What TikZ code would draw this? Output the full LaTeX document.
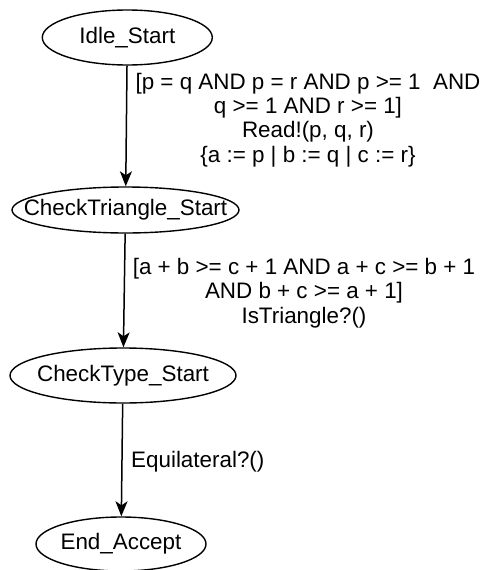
\documentclass[tikz,border=0pt]{standalone}
\usepackage{fontspec}
\setmainfont{Liberation Sans}
\usetikzlibrary{shapes.geometric,arrows.meta}

\tikzset{
  state/.style={draw, ellipse, line width=1.4pt, inner xsep=-60pt, inner ysep=-20pt,
    font=\fontsize{22.4}{24}\selectfont},
  trans/.style={draw, line width=1.5pt, -{Stealth[length=15pt,width=12pt,inset=4pt]}},
  guard/.style={align=center, inner sep=0pt, font=\fontsize{22.4}{24.4}\selectfont}
}

\begin{document}
\begin{tikzpicture}[x=1pt,y=-1pt]
  \useasboundingbox (0,0) rectangle (482,570);

  % states
  \node[state, minimum width=170pt, minimum height=55pt] (idle) at (127.3,37.5) {Idle\_Start};
  \node[state, minimum width=227pt, minimum height=46pt] (tri) at (125.5,210) {CheckTriangle\_Start};
  \node[state, minimum width=226pt, minimum height=55pt] (type) at (123,375.5) {CheckType\_Start};
  \node[state, minimum width=170pt, minimum height=54pt] (acc) at (121,544) {End\_Accept};

  % transitions
  \draw[trans] (idle) -- (tri);
  \draw[trans] (tri) -- (type);
  \draw[trans] (type) -- (acc);

  % transition labels
  \node[guard] (g1) at (308,120) {[p = q AND p = r AND p >= 1~ AND\\q >= 1 AND r >= 1]\\Read!(p, q, r)\\\{a := p | b := q | c := r\}};
  \node[guard] (g2) at (304,293) {[a + b >= c + 1 AND a + c >= b + 1\\AND b + c >= a + 1]\\IsTriangle?()};
  \node[guard, anchor=west] (g3) at (131,462) {Equilateral?()};
\end{tikzpicture}
\end{document}
